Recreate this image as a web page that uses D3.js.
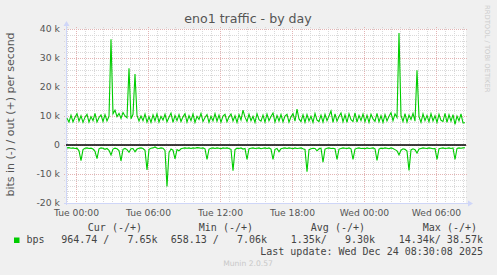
<!DOCTYPE html>
<html>
<head>
<meta charset="utf-8">
<script src="https://cdn.jsdelivr.net/npm/d3@7"></script>
<style>
  body { margin: 0; background: #f0f0f0; }
  text { font-family: "DejaVu Sans", sans-serif; }
  .mono { font-family: "DejaVu Sans Mono", monospace; white-space: pre; }
</style>
</head>
<body>
<div id="mycanvas"></div>
<script>
const width = 497;
const height = 275;

// out (+) traffic, kbit/s, one point per 10 minutes
const outValues = [
  9.2, 7.9, 10.3, 8.0, 9.6, 10.8, 8.2, 10.1, 7.8, 9.6,
  10.6, 7.9, 9.8, 8.4, 10.9, 7.9, 9.5, 10.4, 8.1, 10.5,
  8.3, 9.9, 36.5, 10.8, 12.0, 9.8, 10.9, 9.2, 11.2, 10.0,
  9.4, 26.5, 9.0, 10.6, 24.5, 10.2, 8.3, 10.0, 8.4, 10.7,
  7.9, 9.8, 7.8, 10.4, 8.3, 10.7, 7.9, 9.9, 8.6, 10.6,
  8.0, 9.6, 11.0, 7.8, 10.2, 8.4, 10.5, 8.1, 9.7, 10.8,
  7.9, 10.1, 8.4, 10.7, 7.8, 9.9, 8.8, 10.9, 8.1, 9.5,
  10.5, 7.8, 9.9, 8.3, 10.8, 8.2, 10.3, 7.9, 10.0, 10.6,
  8.0, 9.7, 10.7, 8.3, 10.1, 7.8, 10.5, 8.6, 12.0, 9.6,
  8.1, 10.6, 8.4, 9.9, 7.8, 10.8, 8.7, 8.2, 10.3, 7.9,
  10.7, 8.4, 9.8, 11.0, 7.9, 10.2, 8.3, 10.5, 8.0, 10.0,
  10.6, 7.9, 9.7, 10.8, 8.2, 12.4, 9.0, 8.1, 10.4, 7.8,
  10.5, 8.3, 9.9, 7.8, 10.9, 8.6, 8.1, 10.3, 7.9, 10.6,
  8.4, 10.0, 11.7, 7.8, 10.7, 8.2, 9.8, 11.0, 8.0, 10.4,
  7.8, 10.8, 8.7, 8.1, 11.1, 7.9, 10.2, 8.4, 10.7, 8.0,
  10.3, 7.8, 10.6, 9.0, 8.2, 10.9, 8.0, 10.1, 7.8, 10.5,
  8.3, 9.9, 11.1, 8.4, 10.7, 9.5, 38.6, 10.2, 8.1, 10.8,
  7.9, 10.3, 8.8, 10.9, 8.2, 25.8, 9.8, 7.8, 10.7, 8.4,
  10.2, 8.0, 10.8, 8.3, 10.1, 7.8, 10.6, 8.5, 8.1, 10.9,
  7.8, 10.4, 8.2, 10.5, 7.1, 10.0, 8.3, 10.7, 7.6, 7.65
];

// in (-) traffic, kbit/s, drawn below zero
const inValues = [
  1.0, 0.9, 1.1, 1.0, 1.2, 1.1, 2.0, 5.4, 1.6, 1.1,
  1.0, 1.2, 1.1, 1.4, 2.2, 4.7, 1.3, 1.0, 1.1, 1.5,
  1.2, 1.8, 3.4, 1.4, 1.1, 1.3, 1.9, 5.5, 1.5, 1.2,
  1.6, 2.5, 1.3, 1.2, 2.3, 1.4, 1.1, 1.0, 1.2, 1.8,
  8.6, 1.5, 1.1, 1.0, 0.66, 1.1, 1.2, 1.0, 1.1, 1.9,
  14.3, 2.6, 1.4, 1.8, 4.8, 1.6, 2.0, 1.3, 1.1, 1.0,
  1.1, 1.0, 1.2, 1.0, 1.1, 0.9, 1.0, 1.1, 1.0, 1.3,
  5.0, 1.4, 1.1, 1.0, 1.2, 1.0, 1.1, 1.3, 1.0, 1.1,
  1.0, 1.2, 1.5, 8.9, 1.6, 1.1, 1.2, 1.0, 1.4, 1.2,
  5.0, 1.3, 1.1, 1.0, 1.2, 1.1, 1.0, 1.3, 1.1, 1.0,
  1.2, 1.0, 1.4, 5.0, 1.5, 1.2, 2.3, 1.3, 1.1, 1.0,
  1.2, 1.0, 1.1, 1.3, 1.0, 1.2, 1.1, 1.0, 1.3, 1.5,
  9.2, 1.6, 1.3, 1.1, 1.2, 2.0, 1.3, 1.1, 5.9, 1.4,
  1.1, 1.0, 1.2, 1.1, 1.3, 5.0, 1.4, 1.2, 1.0, 1.1,
  1.2, 1.0, 1.3, 5.0, 1.4, 1.1, 1.0, 1.2, 1.1, 1.3,
  1.0, 1.2, 1.1, 1.0, 1.3, 5.3, 1.4, 1.1, 1.2, 1.0,
  1.1, 1.3, 1.0, 1.2, 1.6, 2.0, 3.4, 1.8, 1.3, 1.5,
  2.1, 8.8, 1.7, 1.3, 1.6, 2.8, 1.4, 1.2, 1.0, 1.1,
  1.2, 1.0, 1.1, 1.3, 1.2, 5.0, 1.3, 1.1, 1.0, 1.2,
  1.1, 1.0, 1.2, 1.0, 5.0, 1.2, 1.0, 1.1, 1.0, 0.96
];

const yTickValues = [-20000, -10000, 0, 10000, 20000, 30000, 40000];
const yTickLabels = ["-20 k", "-10 k", "0", "10 k", "20 k", "30 k", "40 k"];
const xTickLabels = ["Tue 00:00", "Tue 06:00", "Tue 12:00", "Tue 18:00", "Wed 00:00", "Wed 06:00"];
const legendHeads = ["Cur (-/+)", "Min (-/+)", "Avg (-/+)", "Max (-/+)"];
const legendValues = ["964.74 /   7.65k", "658.13 /   7.06k", "1.35k/   9.30k", "14.34k/ 38.57k"];

const endTime = new Date(2025, 11, 24, 8, 30, 8);
const startTime = new Date(endTime.getTime() - 120000 * 1000);
const firstTick = new Date(2025, 11, 23, 0, 0, 0);
const xTickTimes = xTickLabels.map((d, i) => new Date(firstTick.getTime() + i * 6 * 3600 * 1000));
const pointTime = (i) => new Date(endTime.getTime() - 300000 - (outValues.length - 1 - i) * 600000);

const plotLeft = 66, plotRight = 466, plotTop = 29, plotBottom = 203;

const x = d3.scaleTime().domain([startTime, endTime]).range([plotLeft, plotRight]);
const y = d3.scaleLinear().domain([-20000, 40000]).range([plotBottom, plotTop]);

const svg = d3
  .select("#mycanvas")
  .append("svg")
  .attr("width", width)
  .attr("height", height);

svg.append("rect").attr("width", width).attr("height", height).attr("fill", "#f0f0f0");
svg.append("rect")
  .attr("x", plotLeft).attr("y", plotTop)
  .attr("width", plotRight - plotLeft).attr("height", plotBottom - plotTop)
  .attr("fill", "#ffffff");

// grid
const grid = svg.append("g").attr("shape-rendering", "crispEdges");
const minorTimes = d3.range(-2, 60)
  .map((k) => new Date(firstTick.getTime() + k * 45 * 60000))
  .filter((t) => t >= startTime && t <= endTime && (t - firstTick) % (6 * 3600000) !== 0);

grid.selectAll(".hminor")
  .data(d3.range(-20000, 40001, 2000).filter((v) => v % 10000 !== 0))
  .join("line")
  .attr("x1", plotLeft - 2).attr("x2", plotRight + 2)
  .attr("y1", (d) => Math.round(y(d)) + 0.5).attr("y2", (d) => Math.round(y(d)) + 0.5)
  .attr("stroke", "#d9d9d9").attr("stroke-dasharray", "1,1");

grid.selectAll(".vminor")
  .data(minorTimes)
  .join("line")
  .attr("x1", (d) => Math.round(x(d)) + 0.5).attr("x2", (d) => Math.round(x(d)) + 0.5)
  .attr("y1", plotTop - 2).attr("y2", plotBottom + 2)
  .attr("stroke", "#d9d9d9").attr("stroke-dasharray", "1,1");

grid.selectAll(".hmajor")
  .data(yTickValues)
  .join("line")
  .attr("x1", plotLeft - 2).attr("x2", plotRight + 2)
  .attr("y1", (d) => Math.round(y(d)) + 0.5).attr("y2", (d) => Math.round(y(d)) + 0.5)
  .attr("stroke", "#e3b4b4").attr("stroke-dasharray", "1,1");

grid.selectAll(".vmajor")
  .data(xTickTimes)
  .join("line")
  .attr("x1", (d) => Math.round(x(d)) + 0.5).attr("x2", (d) => Math.round(x(d)) + 0.5)
  .attr("y1", plotTop - 2).attr("y2", plotBottom + 2)
  .attr("stroke", "#e3b4b4").attr("stroke-dasharray", "1,1");

// axes lines with arrows
const axisColor = "#cfd6f8";
svg.append("line")
  .attr("x1", plotLeft + 0.5).attr("x2", plotLeft + 0.5)
  .attr("y1", plotBottom + 2).attr("y2", plotTop - 5)
  .attr("stroke", axisColor);
svg.append("path")
  .attr("d", `M${plotLeft - 2.5},${plotTop - 3} L${plotLeft + 0.5},${plotTop - 8} L${plotLeft + 3.5},${plotTop - 3} Z`)
  .attr("fill", axisColor);
svg.append("line")
  .attr("x1", plotLeft - 2).attr("x2", plotRight + 3)
  .attr("y1", plotBottom + 0.5).attr("y2", plotBottom + 0.5)
  .attr("stroke", axisColor);
svg.append("path")
  .attr("d", `M${plotRight + 2},${plotBottom - 2.5} L${plotRight + 7},${plotBottom + 0.5} L${plotRight + 2},${plotBottom + 3.5} Z`)
  .attr("fill", axisColor);

// axis labels
const yAxis = d3.axisLeft(y)
  .tickValues(yTickValues)
  .tickFormat((d, i) => yTickLabels[i])
  .tickSize(0)
  .tickPadding(0);
const gy = svg.append("g").attr("transform", "translate(60,0)").call(yAxis);
gy.select(".domain").remove();
gy.selectAll("text").attr("font-size", "9.3px").attr("fill", "#555").attr("font-family", "DejaVu Sans");

const xAxis = d3.axisBottom(x)
  .tickValues(xTickTimes)
  .tickFormat((d, i) => xTickLabels[i])
  .tickSize(0)
  .tickPadding(6.5);
const gx = svg.append("g").attr("transform", `translate(0,${plotBottom})`).call(xAxis);
gx.select(".domain").remove();
gx.selectAll("text").attr("font-size", "9.2px").attr("fill", "#555").attr("font-family", "DejaVu Sans");

// data lines
const outLine = d3.line()
  .x((d, i) => x(pointTime(i)))
  .y((d) => y(d * 1000));
const inLine = d3.line()
  .x((d, i) => x(pointTime(i)))
  .y((d) => y(-d * 1000));

svg.append("path")
  .datum(inValues)
  .attr("d", inLine)
  .attr("fill", "none")
  .attr("stroke", "#00cc00")
  .attr("stroke-width", 1.1);

svg.append("path")
  .datum(outValues)
  .attr("d", outLine)
  .attr("fill", "none")
  .attr("stroke", "#00cc00")
  .attr("stroke-width", 1.1);

// zero line
svg.append("line")
  .attr("x1", plotLeft).attr("x2", plotRight)
  .attr("y1", y(0)).attr("y2", y(0))
  .attr("stroke", "#000").attr("stroke-width", 1.3);

// title and labels
svg.append("text")
  .attr("x", 248).attr("y", 22.5)
  .attr("text-anchor", "middle")
  .attr("font-size", "12.6px")
  .attr("fill", "#555")
  .text("eno1 traffic - by day");

svg.append("text")
  .attr("transform", "translate(14,114.5) rotate(-90)")
  .attr("text-anchor", "middle")
  .attr("font-size", "11px")
  .attr("fill", "#555")
  .text("bits in (-) / out (+) per second");

svg.append("text")
  .attr("transform", "translate(485,5) rotate(90)")
  .attr("font-size", "6.8px")
  .attr("fill", "#cccccc")
  .text("RRDTOOL / TOBI OETIKER");

// legend
const headRight = [142, 253, 365, 477];
const valueRight = [157.5, 267, 375, 483];

svg.selectAll(".lhead")
  .data(legendHeads)
  .join("text")
  .attr("class", "mono")
  .attr("x", (d, i) => headRight[i]).attr("y", 230.5)
  .attr("text-anchor", "end")
  .attr("font-size", "10px")
  .attr("fill", "#444")
  .text((d) => d);

svg.append("rect")
  .attr("x", 14).attr("y", 237.5)
  .attr("width", 5.5).attr("height", 5.5)
  .attr("fill", "#00cc00");

svg.append("text")
  .attr("class", "mono")
  .attr("x", 26.5).attr("y", 243)
  .attr("font-size", "10px")
  .attr("fill", "#444")
  .text("bps");

svg.selectAll(".lval")
  .data(legendValues)
  .join("text")
  .attr("class", "mono")
  .attr("x", (d, i) => valueRight[i]).attr("y", 243)
  .attr("text-anchor", "end")
  .attr("font-size", "10px")
  .attr("fill", "#444")
  .text((d) => d);

svg.append("text")
  .attr("class", "mono")
  .attr("x", 483).attr("y", 255)
  .attr("text-anchor", "end")
  .attr("font-size", "10px")
  .attr("fill", "#444")
  .text("Last update: Wed Dec 24 08:30:08 2025");

svg.append("text")
  .attr("x", 248).attr("y", 266)
  .attr("text-anchor", "middle")
  .attr("font-size", "7.6px")
  .attr("fill", "#c8c8c8")
  .text("Munin 2.0.57");
</script>
</body>
</html>
